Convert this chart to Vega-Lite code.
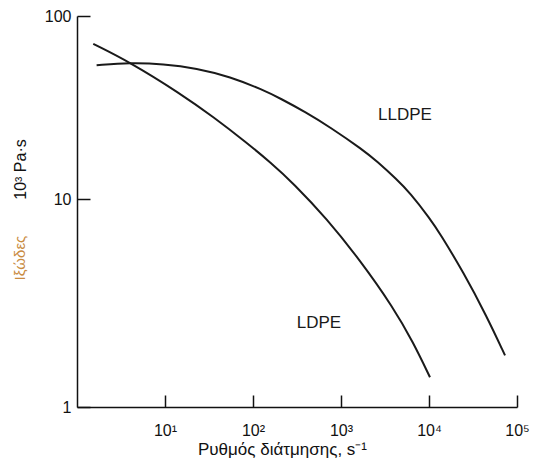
{
  "$schema": "https://vega.github.io/schema/vega-lite/v6.json",
  "width": 440,
  "height": 391,
  "autosize": {"type": "none"},
  "padding": {"left": 77, "top": 16, "right": 17, "bottom": 56},
  "background": "white",
  "config": {
    "view": {"stroke": null},
    "font": "Liberation Sans",
    "axis": {"grid": false, "domainColor": "#111", "domainWidth": 1.5, "tickColor": "#111", "tickWidth": 1.5, "labelColor": "#111", "titleColor": "#111", "labelFontSize": 16, "titleFontWeight": "normal", "labelOverlap": false, "labelFlush": false}
  },
  "datasets": {
    "curves": [
      {"series": "LDPE", "rate": 1.53, "visc": 70.4},
      {"series": "LDPE", "rate": 4.0, "visc": 55.9},
      {"series": "LDPE", "rate": 14.8, "visc": 37.8},
      {"series": "LDPE", "rate": 35.4, "visc": 28.1},
      {"series": "LDPE", "rate": 84.8, "visc": 20.3},
      {"series": "LDPE", "rate": 159, "visc": 15.8},
      {"series": "LDPE", "rate": 287, "visc": 12.2},
      {"series": "LDPE", "rate": 688, "visc": 8.05},
      {"series": "LDPE", "rate": 1644, "visc": 5.08},
      {"series": "LDPE", "rate": 3930, "visc": 3.01},
      {"series": "LDPE", "rate": 6637, "visc": 2.04},
      {"series": "LDPE", "rate": 10260, "visc": 1.39},
      {"series": "LLDPE", "rate": 1.67, "visc": 53.8},
      {"series": "LLDPE", "rate": 4.0, "visc": 55.6},
      {"series": "LLDPE", "rate": 9.57, "visc": 54.7},
      {"series": "LLDPE", "rate": 22.9, "visc": 51.8},
      {"series": "LLDPE", "rate": 54.8, "visc": 46.6},
      {"series": "LLDPE", "rate": 131, "visc": 39.4},
      {"series": "LLDPE", "rate": 203, "visc": 35.5},
      {"series": "LLDPE", "rate": 398, "visc": 29.8},
      {"series": "LLDPE", "rate": 750, "visc": 24.7},
      {"series": "LLDPE", "rate": 1790, "visc": 18.5},
      {"series": "LLDPE", "rate": 2547, "visc": 16.1},
      {"series": "LLDPE", "rate": 4295, "visc": 12.8},
      {"series": "LLDPE", "rate": 6080, "visc": 10.8},
      {"series": "LLDPE", "rate": 10260, "visc": 8.04},
      {"series": "LLDPE", "rate": 13340, "visc": 6.82},
      {"series": "LLDPE", "rate": 24550, "visc": 4.45},
      {"series": "LLDPE", "rate": 45290, "visc": 2.73},
      {"series": "LLDPE", "rate": 73110, "visc": 1.77}
    ],
    "labels": [
      {"name": "LLDPE", "rate": 5335, "visc": 28.8},
      {"name": "LDPE", "rate": 562, "visc": 2.54}
    ]
  },
  "layer": [
    {
      "data": {"name": "curves"},
      "mark": {"type": "line", "interpolate": "basis", "color": "#1a1a1a", "strokeWidth": 2},
      "encoding": {
        "x": {
          "field": "rate", "type": "quantitative",
          "scale": {"type": "log", "domain": [1, 100000], "nice": false},
          "axis": {
            "values": [10, 100, 1000, 10000, 100000],
            "tickSize": -12,
            "labelPadding": 27,
            "labelExpr": "'10' + ['⁰','¹','²','³','⁴','⁵'][round(log(datum.value)/LN10)]",
            "title": "Ρυθμός διάτμησης, s⁻¹",
            "titleFontSize": 17,
            "titleX": 205,
            "titlePadding": 3
          }
        },
        "y": {
          "field": "visc", "type": "quantitative",
          "scale": {"type": "log", "domain": [1, 10, 100], "range": [391, 183, 0], "nice": false},
          "axis": {
            "values": [1, 10, 100],
            "tickSize": -13,
            "labelPadding": 19,
            "format": "d",
            "title": "10³ Pa·s",
            "titleFontSize": 16,
            "titleAngle": 270,
            "titleX": -57,
            "titleY": 153,
            "titleAlign": "center",
            "titleBaseline": "middle"
          }
        },
        "detail": {"field": "series"}
      }
    },
    {
      "data": {"name": "labels"},
      "mark": {"type": "text", "fontSize": 17, "color": "#1a1a1a"},
      "encoding": {
        "x": {"field": "rate", "type": "quantitative"},
        "y": {"field": "visc", "type": "quantitative"},
        "text": {"field": "name"}
      }
    },
    {
      "data": {"values": [{"t": "Ιξώδες"}]},
      "mark": {"type": "text", "fontSize": 15, "angle": 270, "color": "#c98b3f", "align": "center", "baseline": "middle"},
      "encoding": {
        "x": {"datum": 0.225, "type": "quantitative"},
        "y": {"datum": 5.2, "type": "quantitative"},
        "text": {"field": "t"}
      }
    }
  ]
}
